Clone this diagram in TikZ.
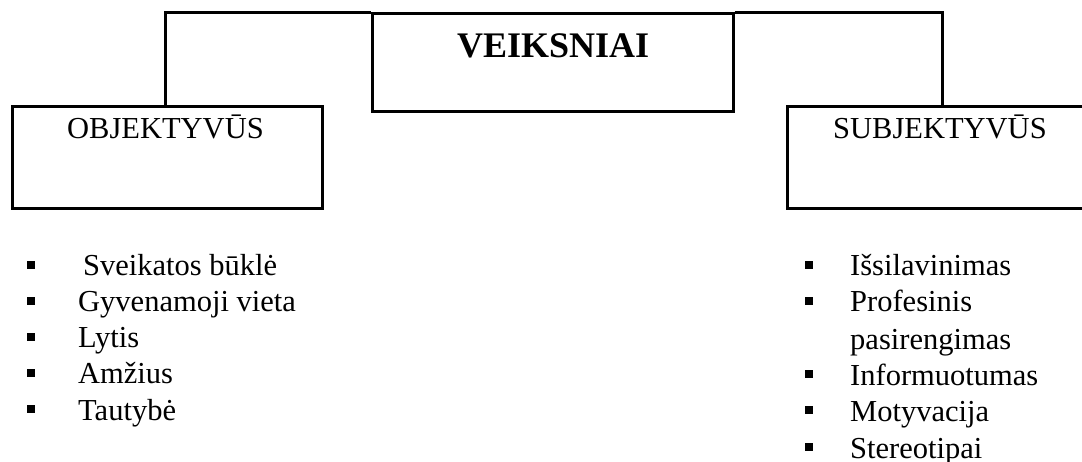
\documentclass[tikz,border=0pt]{standalone}
\usepackage{fontspec}
\setmainfont{Liberation Serif}
\begin{document}
\begin{tikzpicture}[x=1pt,y=-1pt,
  box/.style={draw=black,line width=3pt,rectangle,inner sep=0pt},
  conn/.style={draw=black,line width=3pt},
  title/.style={anchor=base west,inner sep=0pt,font=\fontsize{30.5}{36}\selectfont},
  maintitle/.style={anchor=base west,inner sep=0pt,font=\fontsize{36}{42}\selectfont\bfseries},
  item/.style={anchor=base west,inner sep=0pt,font=\fontsize{30.5}{36}\selectfont},
  bul/.style={fill=black,rectangle,inner sep=0pt,minimum size=8pt}]
\useasboundingbox (0,0) rectangle (1082,462);
\clip (0,0) rectangle (1082,462);
% boxes
\node[box,minimum width=361pt,minimum height=98pt] (c) at (552.5,63) {};
\node[box,minimum width=310pt,minimum height=102pt] (l) at (167,158) {};
\node[box,minimum width=313pt,minimum height=102pt] (r) at (943.5,158) {};
% titles
\node[maintitle] (ct) at (457,58) {VEIKSNIAI};
\node[title] (lt) at (67,139) {OBJEKTYVŪS};
\node[title] (rt) at (833,139) {SUBJEKTYVŪS};
% connectors
\coordinate (lc) at (165,107);
\coordinate (rc) at (942,107);
\draw[conn] (lc) -- (lc |- c.north) -- (c.north west);
\draw[conn] (c.north east) -- (rc |- c.north) -- (rc);
% left list
\node[bul] (lb1) at (31,265) {};
\node[bul] (lb2) at (31,301) {};
\node[bul] (lb3) at (31,337) {};
\node[bul] (lb4) at (31,373) {};
\node[bul] (lb5) at (31,409) {};
\node[item] (li1) at (83,276) {Sveikatos būklė};
\node[item] (li2) at (78,312) {Gyvenamoji vieta};
\node[item] (li3) at (78,348) {Lytis};
\node[item] (li4) at (78,384) {Amžius};
\node[item] (li5) at (78,420) {Tautybė};
% right list
\node[bul] (rb1) at (809,265) {};
\node[bul] (rb2) at (809,301) {};
\node[bul] (rb3) at (809,374) {};
\node[bul] (rb4) at (809,410) {};
\node[bul] (rb5) at (809,447) {};
\node[item] (ri1) at (850,276) {Išsilavinimas};
\node[item] (ri2) at (850,312) {Profesinis};
\node[item] (ri2b) at (850,349) {pasirengimas};
\node[item] (ri3) at (850,385) {Informuotumas};
\node[item] (ri4) at (850,421) {Motyvacija};
\node[item] (ri5) at (850,458) {Stereotipai};
\end{tikzpicture}
\end{document}
